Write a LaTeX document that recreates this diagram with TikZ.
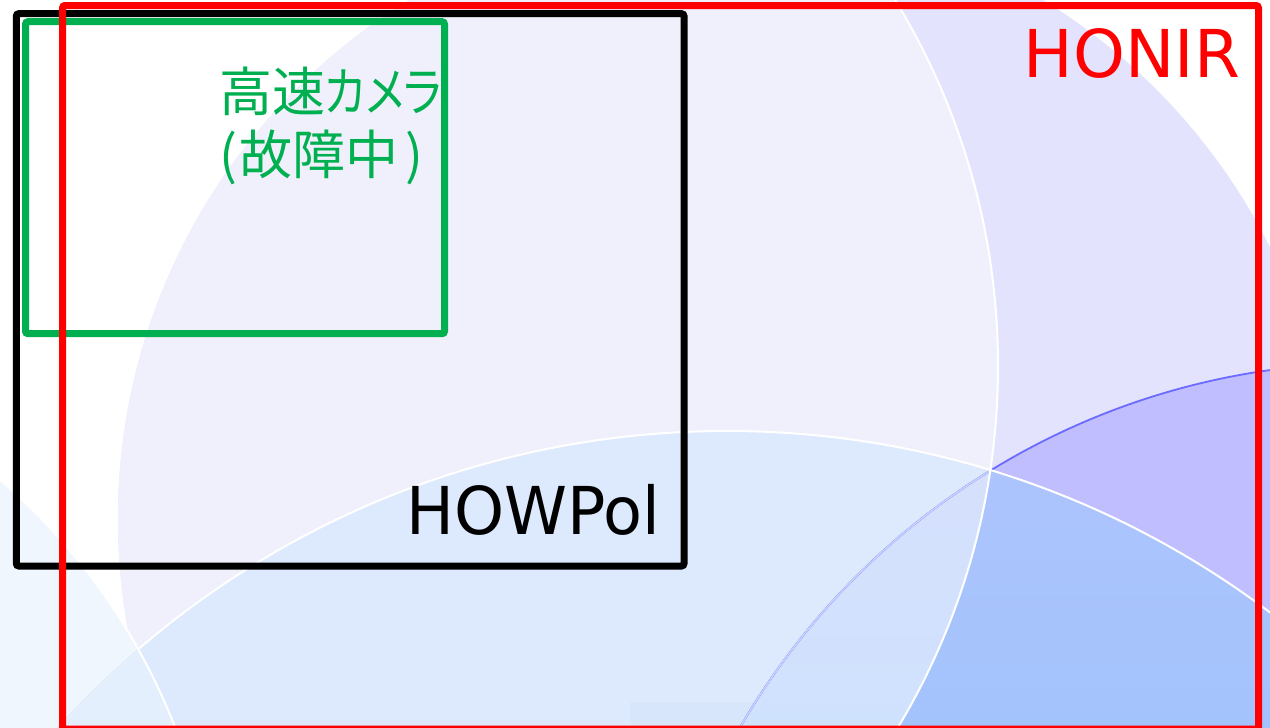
\documentclass[tikz,border=0pt]{standalone}
\usepackage{fontspec}
\usepackage{graphicx}
\setmainfont{DejaVu Sans}
\newfontfamily\jpfont[RawFeature=+palt]{Noto Sans CJK JP}
\definecolor{cL}{HTML}{E3E3FD}
\definecolor{cLM}{HTML}{F0F0FD}
\definecolor{cB}{HTML}{DDE9FC}
\definecolor{cE}{HTML}{EFF6FE}
\definecolor{cBE}{HTML}{E3EFFC}
\definecolor{cRect}{HTML}{D8E6FC}
\definecolor{cD}{HTML}{C0BEFE}
\definecolor{cDBt}{HTML}{ADC4FD}
\definecolor{cDBb}{HTML}{A3C3FC}
\definecolor{cDBMt}{HTML}{D6E0FD}
\definecolor{cDBMb}{HTML}{CFE2FD}
\definecolor{cDline}{HTML}{6B6BFF}
\definecolor{cDfaint}{HTML}{C9D5FD}
\definecolor{cBfaint}{HTML}{DDEBFB}
\definecolor{cGreen}{HTML}{00B050}
\begin{document}
\begin{tikzpicture}[x=1pt,y=-1pt,
  frame/.style={line width=7pt, rounded corners=2.5pt},
  lbl/.style={inner sep=0pt, outer sep=0pt},
  bigfont/.style={font=\fontsize{66}{79}\selectfont},
  jpbig/.style={font=\jpfont\fontsize{53}{63}\selectfont, text=cGreen}]
\useasboundingbox (0,0) rectangle (1270,728);
\clip (0,0) rectangle (1270,728);
\fill[white] (0,0) rectangle (1270,728);
% background circles
\fill[cL] (726,519) circle[radius=608];
\begin{scope}
  \clip (726,519) circle[radius=608];
  \fill[cLM] (296,366) circle[radius=702];
\end{scope}
\fill[cB] (727,1334) circle[radius=903];
\begin{scope}
  \clip (-411,956) circle[radius=629];
  \fill[cE] (-411,956) circle[radius=629];
  \fill[cBE] (727,1334) circle[radius=903];
\end{scope}
\fill[cRect] (630,702) rectangle (760,730);
\fill[cD] (1372,1093) circle[radius=730];
\begin{scope}
  \clip (1372,1093) circle[radius=730];
  \clip (727,1334) circle[radius=903];
  \fill[top color=cDBt, bottom color=cDBb] (700,465) rectangle (1270,728);
  \clip (296,366) circle[radius=702];
  \fill[top color=cDBMt, bottom color=cDBMb] (700,465) rectangle (1270,728);
\end{scope}
% circle outlines
\draw[cDline, line width=1.8pt] (1372,1093) circle[radius=730];
\begin{scope}
  \clip (727,1334) circle[radius=903];
  \draw[cDfaint, line width=1.5pt] (1372,1093) circle[radius=730];
\end{scope}
\draw[white, line width=2pt] (727,1334) circle[radius=903];
\begin{scope}
  \clip (-411,956) circle[radius=629];
  \draw[cBfaint, line width=1.5pt] (727,1334) circle[radius=903];
\end{scope}
\draw[white, line width=2pt] (-411,956) circle[radius=629];
\draw[white, line width=2pt] (296,366) circle[radius=702];
% frames
\draw[frame, black] (16.3,13.7) rectangle (684,566);
\draw[frame, cGreen] (25.5,21.7) rectangle (444.5,333.7);
\draw[frame, red] (62.5,5.5) rectangle (1258.5,729);
% labels
\node[lbl, bigfont, text=red, anchor=base east] (honir) at (1240,77.3) {HONIR};
\node[lbl, bigfont, text=black, anchor=base east] (howpol) at (660,534) {\scalebox{0.965}[1]{HOWPol}};
\node[lbl, jpbig, anchor=base west] (cam1) at (219,111.4) {高速\scalebox{0.83}[1]{カメラ}};
\node[lbl, jpbig, anchor=base west] (cam2) at (219,174.8) {(\kern3pt 故障中\kern7pt)};
\end{tikzpicture}
\end{document}
